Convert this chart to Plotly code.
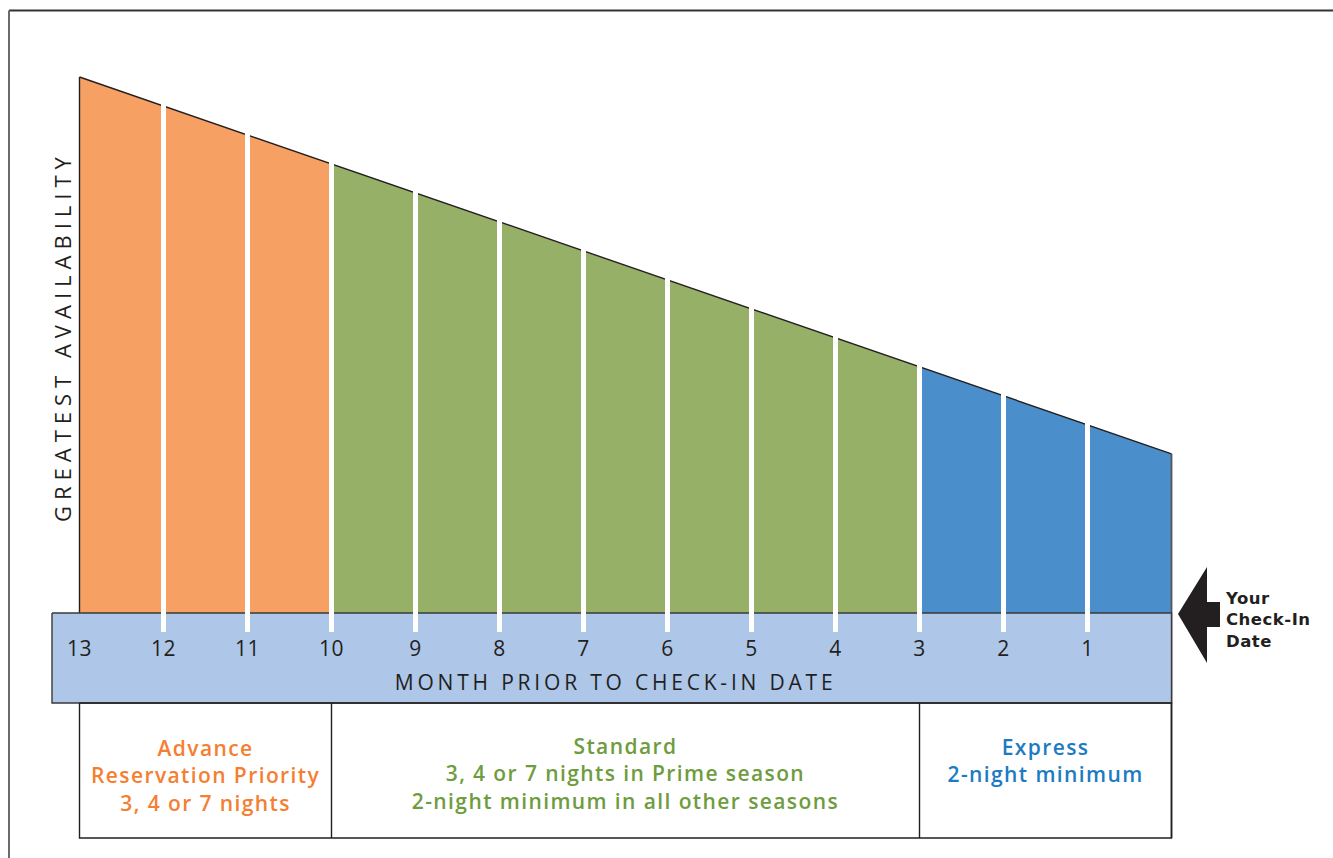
import json
import plotly.graph_objects as go

# Booking window: months before check-in (column boundaries) and relative availability
boundary_months = [13, 12, 11, 10, 9, 8, 7, 6, 5, 4, 3, 2, 1, 0]
availability = [100.0, 94.6, 89.2, 83.8, 78.4, 72.9, 67.5, 62.1, 56.7, 51.3, 45.9, 40.5, 35.1, 29.7]
tick_months = [13, 12, 11, 10, 9, 8, 7, 6, 5, 4, 3, 2, 1]

# Reservation tiers: (start month, end month)
tier_names = ["Advance", "Standard", "Express"]
tier_ranges = [(13, 10), (10, 3), (3, 0)]
tier_fill = ["#F7A063", "#96B068", "#4A8FCC"]
tier_text_color = ["#F47F32", "#6E9C3E", "#1C7BC2"]
tier_text = [
    "Advance<br>Reservation Priority<br>3, 4 or 7 nights",
    "Standard<br>3, 4 or 7 nights in Prime season<br>2-night minimum in all other seasons",
    "Express<br>2-night minimum",
]

x_title = "MONTH PRIOR TO CHECK-IN DATE"
y_title = "GREATEST AVAILABILITY"
checkin_label = "Your<br>Check-In<br>Date"

W, H = 1333, 858
PX_PER_MONTH = 84.0
X13_PX = 79.5
BASE_PX = 613.0
PX_PER_UNIT = 5.36

# axis ranges so that months / availability land on the intended pixels
x_left = 13 + X13_PX / PX_PER_MONTH
x_right = 13 - (W - X13_PX) / PX_PER_MONTH
y_top = BASE_PX / PX_PER_UNIT
y_bottom = -(H - BASE_PX) / PX_PER_UNIT


def mx(px):
    return 13 - (px - X13_PX) / PX_PER_MONTH


def vy(py):
    return (BASE_PX - py) / PX_PER_UNIT


band_bottom = vy(703)
box_bottom = vy(838)
sep_bottom = vy(632)

DARK = "#231F20"
BAND = "#AEC6E8"
FONT = "Open Sans"

fig = go.Figure()


def tier_color(m):
    for (a, b), c in zip(tier_ranges, tier_fill):
        if a >= m > b:
            return c
    return tier_fill[-1]


# one filled column per month
for i in range(len(boundary_months) - 1):
    m0, m1 = boundary_months[i], boundary_months[i + 1]
    a0, a1 = availability[i], availability[i + 1]
    fig.add_trace(go.Scatter(
        x=[m0, m0, m1, m1, m0], y=[0, a0, a1, 0, 0],
        fill="toself", fillcolor=tier_color(m0), mode="none",
        hoverinfo="skip", showlegend=False,
    ))

# sloping top edge and the two outer edges
fig.add_trace(go.Scatter(
    x=boundary_months, y=availability, mode="lines",
    line=dict(color=DARK, width=1.4), hoverinfo="skip", showlegend=False,
))
fig.add_trace(go.Scatter(
    x=[boundary_months[0], boundary_months[0]], y=[0, availability[0]], mode="lines",
    line=dict(color=DARK, width=1.4), hoverinfo="skip", showlegend=False,
))
fig.add_trace(go.Scatter(
    x=[boundary_months[-1], boundary_months[-1]], y=[box_bottom, availability[-1]], mode="lines",
    line=dict(color="#555555", width=1.8), hoverinfo="skip", showlegend=False,
))

# month axis band
bx0 = mx(52)
fig.add_trace(go.Scatter(
    x=[bx0, 0, 0, bx0, bx0], y=[0, 0, band_bottom, band_bottom, 0],
    fill="toself", fillcolor=BAND, mode="lines",
    line=dict(color="#3A3A3A", width=1.4), hoverinfo="skip", showlegend=False,
))

# white month separators reaching into the band
for m, a in zip(boundary_months[1:-1], availability[1:-1]):
    fig.add_trace(go.Scatter(
        x=[m, m], y=[sep_bottom, a + 0.6], mode="lines",
        line=dict(color="white", width=5), hoverinfo="skip", showlegend=False,
    ))

# month tick labels
fig.add_trace(go.Scatter(
    x=tick_months, y=[vy(651)] * len(tick_months), mode="text",
    text=[str(m) for m in tick_months],
    textfont=dict(family=FONT, size=21, color=DARK),
    hoverinfo="skip", showlegend=False,
))

# tier boxes below the band
fig.add_trace(go.Scatter(
    x=[13, 0, 0, 13, 13], y=[band_bottom, band_bottom, box_bottom, box_bottom, band_bottom],
    mode="lines", line=dict(color=DARK, width=1.4), hoverinfo="skip", showlegend=False,
))
for (a, b) in tier_ranges[1:]:
    fig.add_trace(go.Scatter(
        x=[a, a], y=[band_bottom, box_bottom], mode="lines",
        line=dict(color=DARK, width=1.4), hoverinfo="skip", showlegend=False,
    ))

annotations = []
letter_spacing = {}

text_y = [vy(775), vy(773), vy(760)]
for (a, b), txt, col, ty in zip(tier_ranges, tier_text, tier_text_color, text_y):
    annotations.append(dict(
        x=(a + b) / 2, y=ty, xref="x", yref="y", text=txt, showarrow=False,
        font=dict(family=FONT, size=21, color=col, weight=600),
        align="center", xanchor="center", yanchor="middle",
    ))
    letter_spacing[txt] = 1.4

annotations.append(dict(
    x=mx(615), y=vy(682), xref="x", yref="y", text=x_title,
    showarrow=False, font=dict(family=FONT, size=21, color=DARK),
    xanchor="center", yanchor="middle",
))
letter_spacing[x_title] = 3.8

annotations.append(dict(
    x=mx(62), y=vy(336), xref="x", yref="y", text=y_title,
    showarrow=False, textangle=-90, font=dict(family=FONT, size=22, color=DARK),
    xanchor="center", yanchor="middle",
))
letter_spacing[y_title] = 6.0

annotations.append(dict(
    x=mx(1224), y=vy(620), xref="x", yref="y", text=checkin_label,
    showarrow=False, align="left", borderpad=0,
    font=dict(family="DejaVu Sans", size=16.5, color=DARK, weight="bold"),
    xanchor="left", yanchor="middle",
))
letter_spacing[checkin_label] = 0.5

# check-in arrow
ax = [mx(p) for p in (1178, 1207, 1207, 1220, 1220, 1207, 1207, 1178)]
ay = [vy(p) for p in (614, 567, 602, 602, 627, 627, 663, 614)]
fig.add_trace(go.Scatter(
    x=ax, y=ay, fill="toself", fillcolor=DARK, mode="none",
    hoverinfo="skip", showlegend=False,
))

shapes = [
    dict(type="line", xref="paper", yref="paper", x0=9 / W, x1=1.02, y0=1 - 10.5 / H, y1=1 - 10.5 / H,
         line=dict(color="#333333", width=2)),
    dict(type="line", xref="paper", yref="paper", x0=9 / W, x1=9 / W, y0=1 - 10.5 / H, y1=-0.02,
         line=dict(color="#6A6A6A", width=2)),
]

fig.update_layout(
    width=W, height=H,
    margin=dict(l=0, r=0, t=0, b=0),
    paper_bgcolor="white", plot_bgcolor="white",
    xaxis=dict(range=[x_left, x_right], visible=False, fixedrange=True),
    yaxis=dict(range=[y_bottom, y_top], visible=False, fixedrange=True),
    annotations=annotations, shapes=shapes, showlegend=False,
)

# tracked lettering for the annotation texts
post_js = """
var gd = document.getElementById('{plot_id}');
var spacing = %s;
function applyTracking() {
  gd.querySelectorAll('text.annotation-text').forEach(function (t) {
    var key = t.getAttribute('data-unformatted');
    if (key in spacing) { t.style.letterSpacing = spacing[key] + 'px'; }
  });
  gd.querySelectorAll('g.textpoint text').forEach(function (t) {
    t.style.letterSpacing = '0.5px';
  });
}
applyTracking();
gd.on('plotly_afterplot', applyTracking);
""" % json.dumps(letter_spacing)

fig.write_html("out.html", post_script=post_js)
